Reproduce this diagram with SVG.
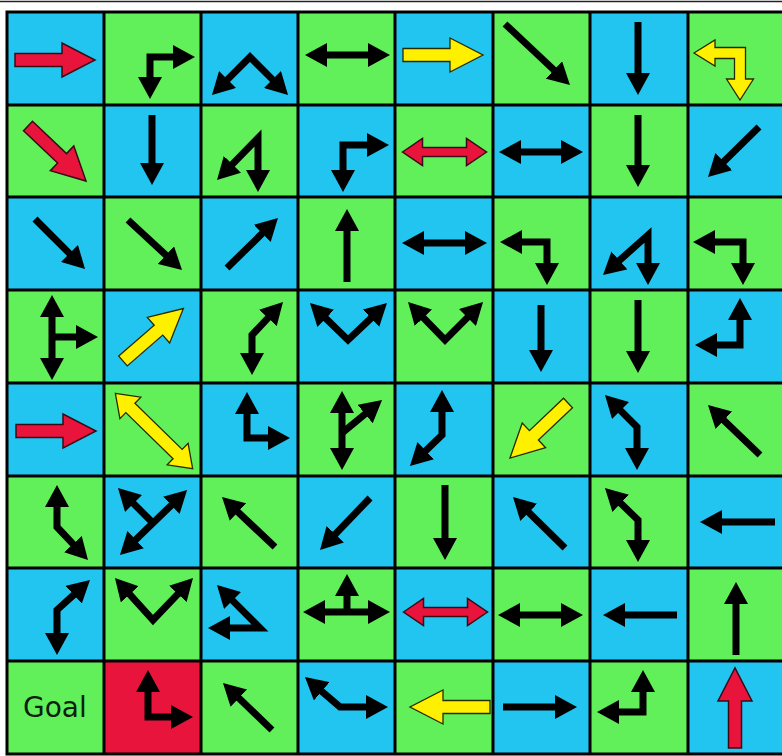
<svg xmlns="http://www.w3.org/2000/svg" width="782" height="756" viewBox="0 0 782 756">
<style>
.b{fill:#22c4f0}
.g{fill:#62f05a}
.r{fill:#e8143c}
.k{fill:none;stroke:#000;stroke-width:7;marker-end:url(#ah)}
.kk{fill:none;stroke:#000;stroke-width:7;marker-start:url(#ah);marker-end:url(#ah)}
.kn{fill:none;stroke:#000;stroke-width:7}
.red{fill:#e8143c;stroke:#3a0a14;stroke-width:1.5}
.yel{fill:#fff000;stroke:#2a2a00;stroke-width:1.3}
.grid{fill:none;stroke:#000;stroke-width:3}
.goal{font-family:"DejaVu Sans",Verdana,sans-serif;font-size:28px;fill:#0c200c}
</style>
<defs>
<marker id="ah" viewBox="0 -12 22 24" refX="3" refY="0" markerWidth="22" markerHeight="24" markerUnits="userSpaceOnUse" orient="auto-start-reverse"><path d="M0,-12 L22,0 L0,12 Z" fill="#000"/></marker>
<path id="big" d="M0,-6.5 H47 V-17 L80,0 L47,17 V6.5 H0 Z"/>
<path id="dbl" d="M-42,0 L-22,-13.5 V-4.5 H22 V-13.5 L42,0 L22,13.5 V4.5 H-22 V13.5 Z"/>
<path id="dbly" d="M-54,0 L-33,-15 V-6.5 H33 V-15 L54,0 L33,15 V6.5 H-33 V15 Z"/>
</defs>
<rect width="782" height="756" fill="#fff"/>
<line x1="0" y1="1.5" x2="782" y2="1.5" stroke="#222" stroke-width="1.5"/>

<!-- Row 0 -->
<g id="r0c0" transform="translate(7,12)"><rect class="b" width="98" height="93"/><use href="#big" class="red" transform="translate(8,48)"/></g>
<g id="r0c1" transform="translate(104,12)"><rect class="g" width="98" height="93"/><path class="kk" d="M46,68 V45 H72"/></g>
<g id="r0c2" transform="translate(201,12)"><rect class="b" width="98" height="93"/><path class="kk" d="M24.4,69.6 L49,45 L73.6,69.6"/></g>
<g id="r0c3" transform="translate(298,12)"><rect class="g" width="98" height="93"/><path class="kk" d="M26,43 H73"/></g>
<g id="r0c4" transform="translate(395,12)"><rect class="b" width="98" height="93"/><use href="#big" class="yel" transform="translate(8,43)"/></g>
<g id="r0c5" transform="translate(493,12)"><rect class="g" width="98" height="93"/><path class="k" d="M12,12 L63.1,60"/></g>
<g id="r0c6" transform="translate(590,12)"><rect class="b" width="98" height="93"/><path class="k" d="M48,10 V64"/></g>
<g id="r0c7" transform="translate(688,12)"><rect class="g" width="98" height="93"/><polygon class="yel" points="6,41 27,28 27,35.5 57.5,35.5 57.5,67 65.5,67 52,88 38.5,67 46.5,67 46.5,46.5 27,46.5 27,54"/></g>

<!-- Row 1 -->
<g id="r1c0" transform="translate(7,105)"><rect class="g" width="98" height="93"/><use href="#big" class="red" transform="translate(21,21) rotate(43.5)"/></g>
<g id="r1c1" transform="translate(104,105)"><rect class="b" width="98" height="93"/><path class="k" d="M48,10 V61"/></g>
<g id="r1c2" transform="translate(201,105)"><rect class="g" width="98" height="93"/><path class="kk" d="M29.3,61.4 L57,33 V68"/></g>
<g id="r1c3" transform="translate(298,105)"><rect class="b" width="98" height="93"/><path class="kk" d="M45,68 V40 H72"/></g>
<g id="r1c4" transform="translate(395,105)"><rect class="g" width="98" height="93"/><use href="#dbl" class="red" transform="translate(49.5,47)"/></g>
<g id="r1c5" transform="translate(493,105)"><rect class="b" width="98" height="93"/><path class="kk" d="M25,47 H71"/></g>
<g id="r1c6" transform="translate(590,105)"><rect class="g" width="98" height="93"/><path class="k" d="M48,10 V63"/></g>
<g id="r1c7" transform="translate(688,105)"><rect class="b" width="98" height="93"/><path class="k" d="M71,22 L33.6,58.7"/></g>

<!-- Row 2 -->
<g id="r2c0" transform="translate(7,197)"><rect class="b" width="98" height="93"/><path class="k" d="M28,22 L64.6,58.6"/></g>
<g id="r2c1" transform="translate(104,197)"><rect class="g" width="98" height="93"/><path class="k" d="M24,23 L64.1,60.1"/></g>
<g id="r2c2" transform="translate(201,197)"><rect class="b" width="98" height="93"/><path class="k" d="M26,71 L63.4,34.3"/></g>
<g id="r2c3" transform="translate(298,197)"><rect class="g" width="98" height="93"/><path class="k" d="M49,85 V31"/></g>
<g id="r2c4" transform="translate(395,197)"><rect class="b" width="98" height="93"/><path class="kk" d="M26,46 H73"/></g>
<g id="r2c5" transform="translate(493,197)"><rect class="g" width="98" height="93"/><path class="kk" d="M26,45 H54 V69"/></g>
<g id="r2c6" transform="translate(590,197)"><rect class="b" width="98" height="93"/><path class="kk" d="M27.2,65.4 L58,38 V69"/></g>
<g id="r2c7" transform="translate(688,197)"><rect class="g" width="98" height="93"/><path class="kk" d="M24,45 H55 V69"/></g>

<!-- Row 3 -->
<g id="r3c0" transform="translate(7,290)"><rect class="g" width="98" height="93"/><path class="kk" d="M45,24 V71"/><path class="k" d="M45,47 H72"/></g>
<g id="r3c1" transform="translate(104,290)"><rect class="b" width="98" height="93"/><use href="#big" class="yel" transform="translate(19,71) rotate(-41)"/></g>
<g id="r3c2" transform="translate(201,290)"><rect class="g" width="98" height="93"/><path class="kk" d="M51,66 V45 L69,25.8"/></g>
<g id="r3c3" transform="translate(298,290)"><rect class="b" width="98" height="93"/><path class="kk" d="M25.6,26.3 L50,50 L75.2,26.1"/></g>
<g id="r3c4" transform="translate(395,290)"><rect class="g" width="98" height="93"/><path class="kk" d="M26.3,25.6 L50,50 L74.6,25.4"/></g>
<g id="r3c5" transform="translate(493,290)"><rect class="b" width="98" height="93"/><path class="k" d="M48,15 V63"/></g>
<g id="r3c6" transform="translate(590,290)"><rect class="g" width="98" height="93"/><path class="k" d="M48,10 V64"/></g>
<g id="r3c7" transform="translate(688,290)"><rect class="b" width="98" height="93"/><path class="kk" d="M26,55 H52 V27"/></g>

<!-- Row 4 -->
<g id="r4c0" transform="translate(7,383)"><rect class="b" width="98" height="93"/><use href="#big" class="red" transform="translate(9,48)"/></g>
<g id="r4c1" transform="translate(104,383)"><rect class="g" width="98" height="93"/><use href="#dbly" class="yel" transform="translate(50,48) rotate(44.3)"/></g>
<g id="r4c2" transform="translate(201,383)"><rect class="b" width="98" height="93"/><path class="kk" d="M46,28 V55 H70"/></g>
<g id="r4c3" transform="translate(298,383)"><rect class="g" width="98" height="93"/><path class="kk" d="M44,27 V68"/><path class="k" d="M44,50 L69.4,29.1"/></g>
<g id="r4c4" transform="translate(395,383)"><rect class="b" width="98" height="93"/><path class="kk" d="M47,26 V52 L28.6,69.8"/></g>
<g id="r4c5" transform="translate(493,383)"><rect class="g" width="98" height="93"/><use href="#big" class="yel" transform="translate(75,20) rotate(136.5)"/></g>
<g id="r4c6" transform="translate(590,383)"><rect class="b" width="98" height="93"/><path class="kk" d="M28.4,25.4 L47,44 V68"/></g>
<g id="r4c7" transform="translate(688,383)"><rect class="g" width="98" height="93"/><path class="k" d="M72,72 L33.7,35.2"/></g>

<!-- Row 5 -->
<g id="r5c0" transform="translate(7,476)"><rect class="g" width="98" height="93"/><path class="kk" d="M50,28 V51 L68,70.2"/></g>
<g id="r5c1" transform="translate(104,476)"><rect class="b" width="98" height="93"/><path class="kk" d="M29.6,65.8 L69.4,27.2"/><path class="k" d="M49,47 L27.4,25.4"/></g>
<g id="r5c2" transform="translate(201,476)"><rect class="g" width="98" height="93"/><path class="k" d="M74,71 L34.8,34"/></g>
<g id="r5c3" transform="translate(298,476)"><rect class="b" width="98" height="93"/><path class="k" d="M72,22 L35.2,60.3"/></g>
<g id="r5c4" transform="translate(395,476)"><rect class="g" width="98" height="93"/><path class="k" d="M50,9 V65"/></g>
<g id="r5c5" transform="translate(493,476)"><rect class="b" width="98" height="93"/><path class="k" d="M72,72 L33.6,34.3"/></g>
<g id="r5c6" transform="translate(590,476)"><rect class="g" width="98" height="93"/><path class="kk" d="M28.6,25.2 L48,44 V67"/></g>
<g id="r5c7" transform="translate(688,476)"><rect class="b" width="98" height="93"/><path class="k" d="M87,46 H31"/></g>

<!-- Row 6 -->
<g id="r6c0" transform="translate(7,568)"><rect class="b" width="98" height="93"/><path class="kk" d="M50,68 V42 L68.9,24.8"/></g>
<g id="r6c1" transform="translate(104,568)"><rect class="g" width="98" height="93"/><path class="kk" d="M23.7,24.1 L49,52 L75.9,23.8"/></g>
<g id="r6c2" transform="translate(201,568)"><rect class="b" width="98" height="93"/><path class="kk" d="M29.4,30.4 L59,60 H26"/></g>
<g id="r6c3" transform="translate(298,568)"><rect class="g" width="98" height="93"/><path class="kk" d="M24,44 H73"/><path class="k" d="M49,44 V25"/></g>
<g id="r6c4" transform="translate(395,568)"><rect class="b" width="98" height="93"/><use href="#dbl" class="red" transform="translate(50.5,44)"/></g>
<g id="r6c5" transform="translate(493,568)"><rect class="g" width="98" height="93"/><path class="kk" d="M24,47 H71"/></g>
<g id="r6c6" transform="translate(590,568)"><rect class="b" width="98" height="93"/><path class="k" d="M87,47 H32"/></g>
<g id="r6c7" transform="translate(688,568)"><rect class="g" width="98" height="93"/><path class="k" d="M48,87 V33"/></g>

<!-- Row 7 -->
<g id="r7c0" transform="translate(7,661)"><rect class="g" width="98" height="93"/><text class="goal" x="16" y="56">Goal</text></g>
<g id="r7c1" transform="translate(104,661)"><rect class="r" width="98" height="93"/><path class="kk" d="M44,28 V56 H70"/></g>
<g id="r7c2" transform="translate(201,661)"><rect class="g" width="98" height="93"/><path class="k" d="M71,69 L35.7,35.1"/></g>
<g id="r7c3" transform="translate(298,661)"><rect class="b" width="98" height="93"/><path class="kk" d="M21.4,28.4 L42,46 H71"/></g>
<g id="r7c4" transform="translate(395,661)"><rect class="g" width="98" height="93"/><use href="#big" class="yel" transform="translate(95,46) rotate(180)"/></g>
<g id="r7c5" transform="translate(493,661)"><rect class="b" width="98" height="93"/><path class="k" d="M10,46 H65"/></g>
<g id="r7c6" transform="translate(590,661)"><rect class="g" width="98" height="93"/><path class="kk" d="M26,51 H53 V28"/></g>
<g id="r7c7" transform="translate(688,661)"><rect class="b" width="98" height="93"/><use href="#big" class="red" transform="translate(47,87) rotate(-90)"/></g>

<g id="grid" class="grid">
<rect x="7" y="12" width="778" height="742"/>
<path d="M104,12 V754 M201,12 V754 M298,12 V754 M395,12 V754 M493,12 V754 M590,12 V754 M688,12 V754"/>
<path d="M7,105 H785 M7,197 H785 M7,290 H785 M7,383 H785 M7,476 H785 M7,568 H785 M7,661 H785"/>
</g>
</svg>
